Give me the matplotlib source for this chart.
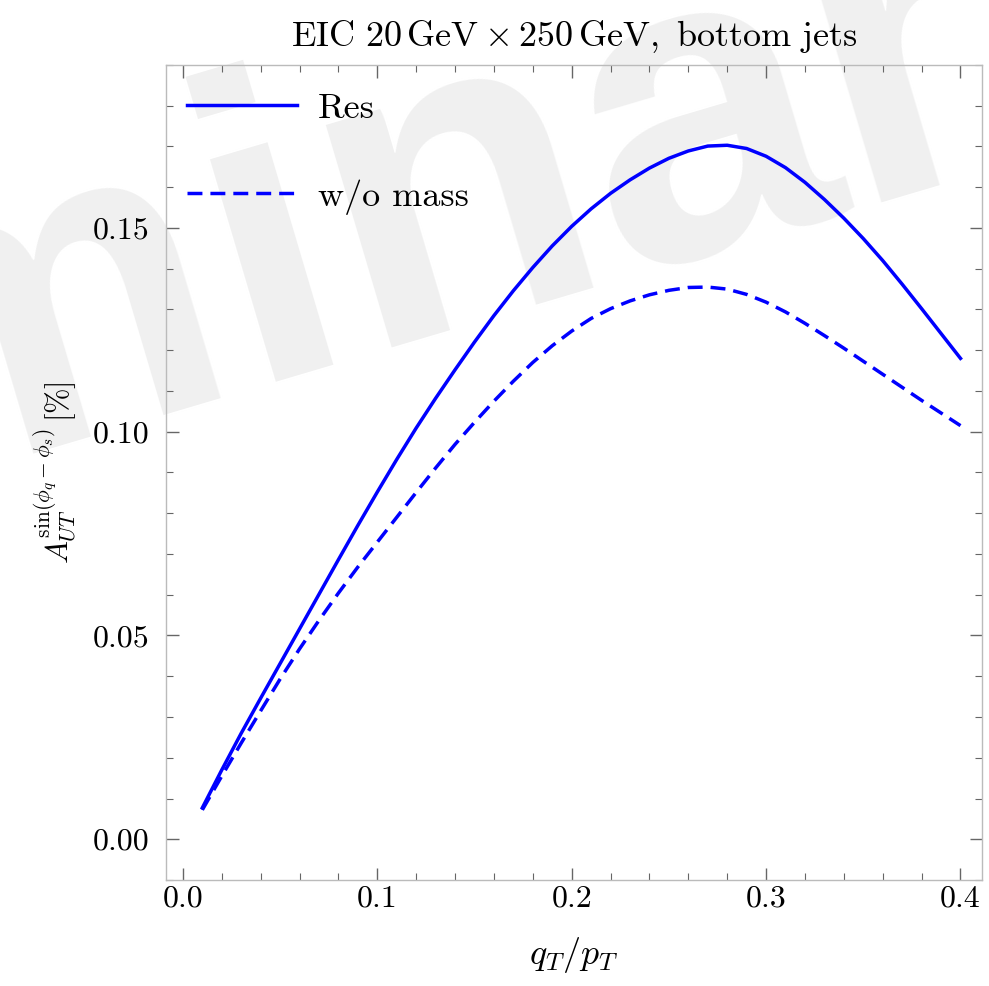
import matplotlib
matplotlib.use('Agg')
import matplotlib.pyplot as plt
from matplotlib.ticker import MultipleLocator, FormatStrFormatter

plt.rcParams['mathtext.fontset'] = 'cm'
plt.rcParams['font.family'] = 'cmr10'
plt.rcParams['axes.formatter.use_mathtext'] = True

# q_T / p_T values
qt = [0.01, 0.02, 0.03, 0.04, 0.05, 0.06, 0.07, 0.08, 0.09, 0.10,
      0.11, 0.12, 0.13, 0.14, 0.15, 0.16, 0.17, 0.18, 0.19, 0.20,
      0.21, 0.22, 0.23, 0.24, 0.25, 0.26, 0.27, 0.28, 0.29, 0.30,
      0.31, 0.32, 0.33, 0.34, 0.35, 0.36, 0.37, 0.38, 0.39, 0.40]

# asymmetry [%], full result (Res)
res = [0.0077, 0.0170, 0.0260, 0.0346, 0.0431, 0.0516, 0.0601, 0.0686, 0.0770, 0.0852,
       0.0932, 0.1009, 0.1082, 0.1152, 0.1220, 0.1285, 0.1346, 0.1403, 0.1456, 0.1504,
       0.1547, 0.1585, 0.1618, 0.1647, 0.1671, 0.1689, 0.1701, 0.1703, 0.1695, 0.1676,
       0.1648, 0.1612, 0.1570, 0.1524, 0.1474, 0.1420, 0.1362, 0.1302, 0.1241, 0.1180]

# without mass
wo_mass = [0.0072, 0.0155, 0.0236, 0.0315, 0.0393, 0.0467, 0.0537, 0.0604, 0.0668, 0.0729,
           0.0790, 0.0851, 0.0911, 0.0969, 0.1023, 0.1075, 0.1124, 0.1170, 0.1211, 0.1247,
           0.1278, 0.1302, 0.1321, 0.1336, 0.1347, 0.1354, 0.1355, 0.1350, 0.1337, 0.1318,
           0.1294, 0.1266, 0.1236, 0.1205, 0.1173, 0.1141, 0.1109, 0.1077, 0.1046, 0.1015]

fig = plt.figure(figsize=(9.89, 9.86), dpi=100)
ax = fig.add_axes([0.1678, 0.1075, 0.8250, 0.8266])
ax.set_facecolor('none')

# watermark behind everything
fig.text(-1.048, 0.227, 'Preliminary', fontsize=315, family='Liberation Sans',
         weight='bold', color='#f0f0f0', rotation=16.5, rotation_mode='anchor',
         ha='left', va='baseline', zorder=-1)

ax.plot(qt, res, color='#0000ff', lw=2.5, label='Res')
ax.plot(qt, wo_mass, color='#0000ff', lw=2.5, dashes=(4.3, 2.3), label='w/o mass')

ax.set_xlim(-0.0087, 0.411)
ax.set_ylim(-0.0100, 0.190)

ax.xaxis.set_major_locator(MultipleLocator(0.1))
ax.xaxis.set_minor_locator(MultipleLocator(0.02))
ax.yaxis.set_major_locator(MultipleLocator(0.05))
ax.yaxis.set_minor_locator(MultipleLocator(0.01))
ax.xaxis.set_major_formatter(FormatStrFormatter('%.1f'))
ax.yaxis.set_major_formatter(FormatStrFormatter('%.2f'))

ax.tick_params(which='both', direction='in', top=True, right=True, color='#666666')
ax.tick_params(which='major', length=9, width=1.0, labelsize=23)
ax.tick_params(which='minor', length=5, width=0.8)
ax.tick_params(axis='x', which='major', pad=4)
ax.tick_params(axis='y', which='major', pad=12)
for s in ax.spines.values():
    s.set_color('#bbbbbb')
    s.set_linewidth(1.0)

ax.set_title(r'$\mathrm{EIC}\ 20\,\mathrm{GeV}\times 250\,\mathrm{GeV},\ \mathrm{bottom\ jets}$',
             fontsize=26, pad=14)
ax.set_xlabel(r'$q_T/p_T$', fontsize=26, labelpad=16)
ax.set_ylabel(r'$A_{UT}^{\sin(\phi_q-\phi_s)}\,[\%]$', fontsize=22, labelpad=10)

ax.legend(loc='upper left', bbox_to_anchor=(0.0258, 0.966), frameon=False,
          fontsize=26, handlelength=3.05, handletextpad=0.58, labelspacing=1.5,
          borderpad=0, borderaxespad=0)

fig.savefig('out.png', dpi=100)
